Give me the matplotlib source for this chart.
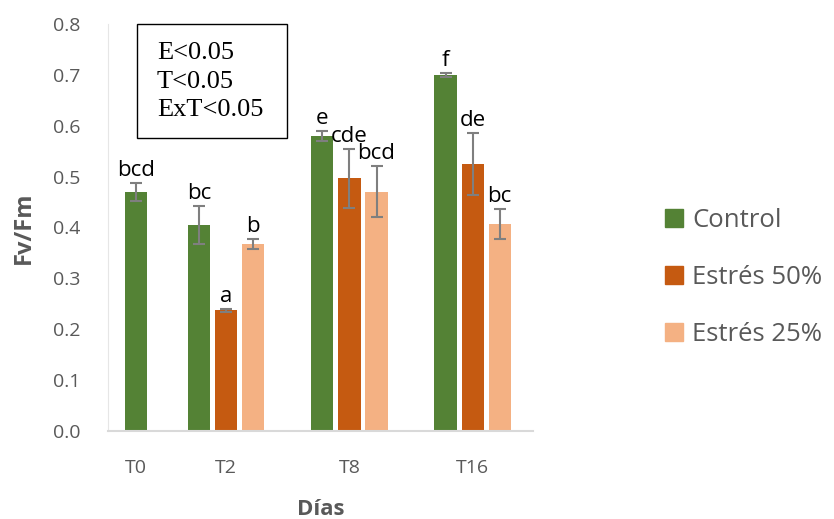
import numpy as np
import matplotlib.pyplot as plt
from matplotlib.patches import Patch, Rectangle

# Fv/Fm por día y tratamiento (media, error)
dias = ['T0', 'T2', 'T8', 'T16']
control = [0.47, 0.405, 0.58, 0.70]
control_err = [0.018, 0.037, 0.01, 0.004]
estres50 = [np.nan, 0.237, 0.497, 0.525]
estres50_err = [np.nan, 0.003, 0.058, 0.061]
estres25 = [np.nan, 0.368, 0.47, 0.407]
estres25_err = [np.nan, 0.01, 0.05, 0.029]

letras_control = ['bcd', 'bc', 'e', 'f']
letras_50 = ['', 'a', 'cde', 'de']
letras_25 = ['', 'b', 'bcd', 'bc']

col_control = '#548235'
col_50 = '#c55a11'
col_25 = '#f4b183'
gris = '#595959'

fig = plt.figure(figsize=(8.34, 5.19), dpi=100)
ax = fig.add_axes([0.1295, 0.1696, 0.5096, 0.7842])

# T0 solo tiene control, centrado bajo su etiqueta
pos = np.array([0.268, 1.0, 2.0, 3.0])
w = 0.18
off = 0.22
xc = pos.copy()
xc[1:] = pos[1:] - off

series = [
    (xc, control, control_err, col_control, letras_control),
    (pos, estres50, estres50_err, col_50, letras_50),
    (pos + off, estres25, estres25_err, col_25, letras_25),
]

for x, v, e, c, lab in series:
    ax.bar(x, v, width=w, color=c, zorder=2)
    ax.errorbar(x, v, yerr=e, fmt='none', ecolor='#7f7f7f', elinewidth=1.5,
                capsize=4, capthick=1.5, zorder=3)
    for xi, vi, ei, li in zip(x, v, e, lab):
        if li:
            ax.text(xi, vi + ei + 0.004, li, ha='center', va='bottom',
                    fontsize=16, family='Open Sans', color='black')

ax.set_xlim(0.04, 3.49)
ax.set_ylim(0, 0.8)
yt = np.arange(0, 0.81, 0.1)
ax.set_yticks(yt)
ax.set_yticklabels([f'{t:.1f}' for t in yt], fontsize=14, color=gris,
                   family='Open Sans')
ax.set_xticks(pos)
ax.set_xticklabels(dias, fontsize=14, color=gris, family='Open Sans')
ax.tick_params(axis='y', length=0, pad=20)
ax.tick_params(axis='x', length=0, pad=20)

for s in ['top', 'right']:
    ax.spines[s].set_visible(False)
ax.spines['left'].set_color('#e6e6e6')
ax.spines['bottom'].set_color('#d9d9d9')
ax.spines['bottom'].set_linewidth(1.5)

ax.set_ylabel('Fv/Fm', fontsize=17, fontweight='bold', color=gris,
              family='Open Sans', labelpad=12)
ax.set_xlabel('Días', fontsize=16, fontweight='bold', color=gris,
              family='Open Sans', labelpad=16)

# Cuadro con significancia
ax.add_patch(Rectangle((0.068, 0.72), 0.353, 0.28, transform=ax.transAxes,
                       fill=False, ec='black', lw=1, clip_on=False, zorder=4))
ax.text(0.115, 0.955, 'E<0.05\nT<0.05\nExT<0.05', transform=ax.transAxes,
        fontsize=19, family='Liberation Serif', va='top', ha='left',
        linespacing=1.38, zorder=5)

handles = [Patch(color=col_control, label='Control'),
           Patch(color=col_50, label='Estrés 50%'),
           Patch(color=col_25, label='Estrés 25%')]
fig.legend(handles=handles, loc='center left', bbox_to_anchor=(0.785, 0.466),
           frameon=False, prop={'family': 'Open Sans', 'size': 18.5},
           labelcolor=gris, handlelength=0.7, handleheight=0.7,
           handletextpad=0.35, labelspacing=1.25, borderaxespad=0)

fig.savefig('out.png', dpi=100)
